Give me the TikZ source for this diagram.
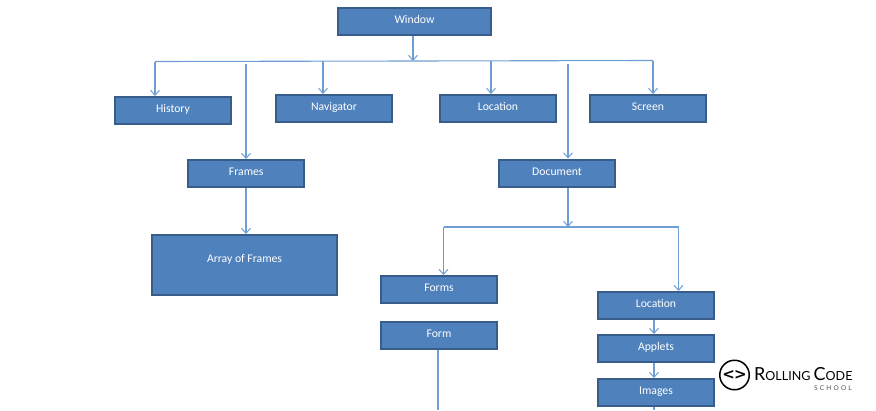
\documentclass[tikz,border=0pt]{standalone}
\usepackage{fontspec}
\setmainfont{Carlito}
\newfontfamily\logofont{Lato}
\newfontfamily\logobold{DejaVu Sans}
\usetikzlibrary{arrows.meta}
\definecolor{boxfill}{HTML}{4F81BD}
\definecolor{boxline}{HTML}{385D8A}
\definecolor{wire}{HTML}{6F9ED6}
\begin{document}
\begin{tikzpicture}[x=1pt, y=-1pt, font=\fontsize{11.7}{13}\selectfont, >={Straight Barb[length=5pt, width=9pt, line width=1pt]},
    main/.style = {draw=boxline, fill=boxfill, line width=2pt, text=white, minimum width=116pt, minimum height=27pt, inner sep=0pt, text height=8pt, text depth=3.5pt},
    wide/.style = {main, minimum width=185pt, minimum height=60pt, text depth=14pt},
    link/.style = {draw=wire, line width=1.1pt}]
    \useasboundingbox (0,0) rectangle (876,410);
    \node[main, minimum width=153pt] (window) at (414.5,21.5) {Window};
    \node[main] (history) at (173,110.5) {History};
    \node[main] (navigator) at (334,108.5) {Navigator};
    \node[main] (location) at (498,108.5) {Location};
    \node[main] (screen) at (648,108.5) {Screen};
    \node[main] (frames) at (246.25,173.5) {Frames};
    \node[main] (document) at (557,173) {Document};
    \node[wide] (array) at (244.5,265) {Array of Frames};
    \node[main] (forms) at (439,289.5) {Forms};
    \node[main] (form) at (439,335.5) {Form};
    \node[main] (locationb) at (656,305.5) {Location};
    \node[main] (applets) at (656,348.5) {Applets};
    \node[main] (images) at (656,392.5) {Images};
    \coordinate (busl) at (155,61.5);
    \coordinate (busm) at (413,61);
    \coordinate (busn) at (323,61);
    \coordinate (busr) at (491,61);
    \coordinate (buss) at (653,60.5);
    \coordinate (framestop) at (246,64);
    \coordinate (doctop) at (568,64);
    \coordinate (forkm) at (568,227);
    \coordinate (forkl) at (443.5,227);
    \coordinate (forkr) at (678.5,227);
    \coordinate (formend) at (438,410);
    \coordinate (imagesend) at (654,410);
    \draw[link] (busl) -- (busm) -- (buss);
    \draw[link] (forkl) -- (forkm) -- (forkr);
    \draw[link, ->] (window.south -| busm) -- (busm);
    \draw[link, ->] (busl) -- (history.north -| busl);
    \draw[link, ->] (busn) -- (navigator.north -| busn);
    \draw[link, ->] (busr) -- (location.north -| busr);
    \draw[link, ->] (buss) -- (screen.north -| buss);
    \draw[link, ->] (framestop) -- (frames.north -| framestop);
    \draw[link, ->] (doctop) -- (document.north -| doctop);
    \draw[link, ->] (frames.south -| framestop) -- (array.north -| framestop);
    \draw[link, ->] (document.south -| forkm) -- (forkm);
    \draw[link, ->] (forkl) -- (forms.north -| forkl);
    \draw[link, ->] (forkr) -- (locationb.north -| forkr);
    \draw[link, ->] (locationb.south -| imagesend) -- (applets.north -| imagesend);
    \draw[link, ->] (applets.south -| imagesend) -- (images.north -| imagesend);
    \draw[link] (form.south -| formend) -- (formend);
    \draw[link] (images.south -| imagesend) -- (imagesend);
    \node[draw=black, circle, line width=1.5pt, minimum size=29.5pt, inner sep=0pt, font=\logobold\bfseries\fontsize{15}{15}\selectfont] (logo) at (734.5,375) {<\kern-1pt>};
    \node[anchor=west, inner sep=0pt, font=\logofont\fontsize{12.5}{15}\selectfont] (rolling) at (754,374.5) {{\fontsize{18}{15}\selectfont R}OLLING {\fontsize{18}{15}\selectfont C}ODE};
    \node[anchor=east, inner sep=0pt, text=black!70, font=\logofont\fontsize{6.5}{7}\selectfont] (school) at (852,388) {S\kern2.2pt C\kern2.2pt H\kern2.2pt O\kern2.2pt O\kern2.2pt L};
\end{tikzpicture}
\end{document}
